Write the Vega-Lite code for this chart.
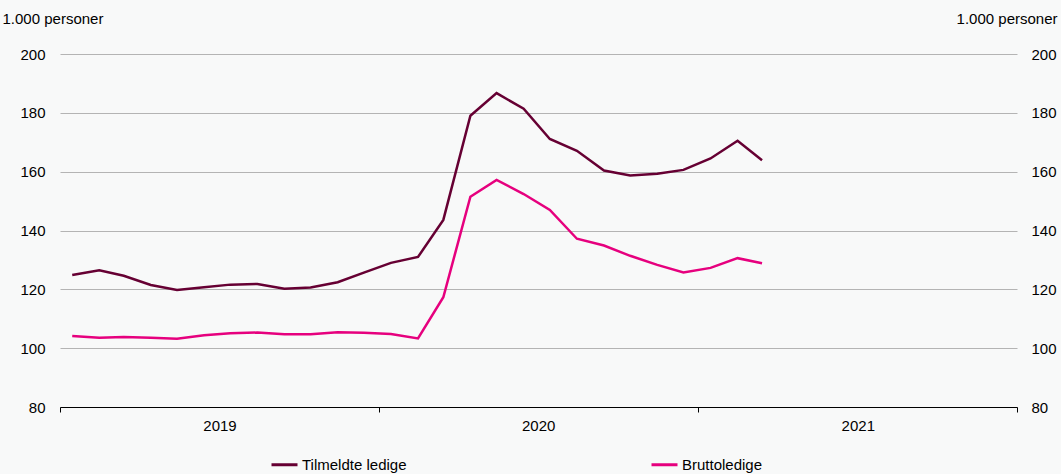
{
  "$schema": "https://vega.github.io/schema/vega-lite/v6.json",
  "width": 957,
  "height": 353,
  "autosize": {"type": "none"},
  "padding": {"left": 60, "top": 54, "right": 44, "bottom": 67},
  "background": "#f8f9f9",
  "config": {
    "view": {"stroke": null},
    "font": "Liberation Sans",
    "axis": {"labelFont": "Liberation Sans", "titleFont": "Liberation Sans", "labelFontSize": 15, "titleFontSize": 15, "labelColor": "#000000", "titleColor": "#000000", "titleFontWeight": "normal"},
    "legend": {"labelFont": "Liberation Sans", "labelFontSize": 15, "labelColor": "#000000"}
  },
  "data": {
    "values": [
      {"date": "2019-01-15", "serie": "Tilmeldte ledige", "value": 124.9},
      {"date": "2019-02-15", "serie": "Tilmeldte ledige", "value": 126.5},
      {"date": "2019-03-15", "serie": "Tilmeldte ledige", "value": 124.6},
      {"date": "2019-04-15", "serie": "Tilmeldte ledige", "value": 121.5},
      {"date": "2019-05-15", "serie": "Tilmeldte ledige", "value": 119.8},
      {"date": "2019-06-15", "serie": "Tilmeldte ledige", "value": 120.7},
      {"date": "2019-07-15", "serie": "Tilmeldte ledige", "value": 121.6},
      {"date": "2019-08-15", "serie": "Tilmeldte ledige", "value": 121.8},
      {"date": "2019-09-15", "serie": "Tilmeldte ledige", "value": 120.2},
      {"date": "2019-10-15", "serie": "Tilmeldte ledige", "value": 120.6},
      {"date": "2019-11-15", "serie": "Tilmeldte ledige", "value": 122.4},
      {"date": "2019-12-15", "serie": "Tilmeldte ledige", "value": 125.7},
      {"date": "2020-01-15", "serie": "Tilmeldte ledige", "value": 129.0},
      {"date": "2020-02-15", "serie": "Tilmeldte ledige", "value": 131.0},
      {"date": "2020-03-15", "serie": "Tilmeldte ledige", "value": 143.6},
      {"date": "2020-04-15", "serie": "Tilmeldte ledige", "value": 179.0},
      {"date": "2020-05-15", "serie": "Tilmeldte ledige", "value": 186.7},
      {"date": "2020-06-15", "serie": "Tilmeldte ledige", "value": 181.4},
      {"date": "2020-07-15", "serie": "Tilmeldte ledige", "value": 171.1},
      {"date": "2020-08-15", "serie": "Tilmeldte ledige", "value": 167.1},
      {"date": "2020-09-15", "serie": "Tilmeldte ledige", "value": 160.4},
      {"date": "2020-10-15", "serie": "Tilmeldte ledige", "value": 158.7},
      {"date": "2020-11-15", "serie": "Tilmeldte ledige", "value": 159.3},
      {"date": "2020-12-15", "serie": "Tilmeldte ledige", "value": 160.6},
      {"date": "2021-01-15", "serie": "Tilmeldte ledige", "value": 164.5},
      {"date": "2021-02-15", "serie": "Tilmeldte ledige", "value": 170.5},
      {"date": "2021-03-15", "serie": "Tilmeldte ledige", "value": 163.9},
      {"date": "2019-01-15", "serie": "Bruttoledige", "value": 104.1},
      {"date": "2019-02-15", "serie": "Bruttoledige", "value": 103.5},
      {"date": "2019-03-15", "serie": "Bruttoledige", "value": 103.8},
      {"date": "2019-04-15", "serie": "Bruttoledige", "value": 103.5},
      {"date": "2019-05-15", "serie": "Bruttoledige", "value": 103.2},
      {"date": "2019-06-15", "serie": "Bruttoledige", "value": 104.4},
      {"date": "2019-07-15", "serie": "Bruttoledige", "value": 105.1},
      {"date": "2019-08-15", "serie": "Bruttoledige", "value": 105.3},
      {"date": "2019-09-15", "serie": "Bruttoledige", "value": 104.7},
      {"date": "2019-10-15", "serie": "Bruttoledige", "value": 104.7},
      {"date": "2019-11-15", "serie": "Bruttoledige", "value": 105.4},
      {"date": "2019-12-15", "serie": "Bruttoledige", "value": 105.2},
      {"date": "2020-01-15", "serie": "Bruttoledige", "value": 104.8},
      {"date": "2020-02-15", "serie": "Bruttoledige", "value": 103.3},
      {"date": "2020-03-15", "serie": "Bruttoledige", "value": 117.3},
      {"date": "2020-04-15", "serie": "Bruttoledige", "value": 151.5},
      {"date": "2020-05-15", "serie": "Bruttoledige", "value": 157.2},
      {"date": "2020-06-15", "serie": "Bruttoledige", "value": 152.4},
      {"date": "2020-07-15", "serie": "Bruttoledige", "value": 147.0},
      {"date": "2020-08-15", "serie": "Bruttoledige", "value": 137.2},
      {"date": "2020-09-15", "serie": "Bruttoledige", "value": 134.9},
      {"date": "2020-10-15", "serie": "Bruttoledige", "value": 131.4},
      {"date": "2020-11-15", "serie": "Bruttoledige", "value": 128.3},
      {"date": "2020-12-15", "serie": "Bruttoledige", "value": 125.7},
      {"date": "2021-01-15", "serie": "Bruttoledige", "value": 127.3},
      {"date": "2021-02-15", "serie": "Bruttoledige", "value": 130.6},
      {"date": "2021-03-15", "serie": "Bruttoledige", "value": 128.9}
    ]
  },
  "encoding": {
    "x": {
      "field": "date",
      "type": "temporal",
      "scale": {"type": "utc", "domain": [{"year": 2019, "month": 1, "date": 1, "utc": true}, {"year": 2022, "month": 1, "date": 1, "utc": true}]},
      "axis": {
        "title": null,
        "values": [{"year": 2019, "month": 1, "date": 1, "utc": true}, {"year": 2020, "month": 1, "date": 1, "utc": true}, {"year": 2021, "month": 1, "date": 1, "utc": true}, {"year": 2022, "month": 1, "date": 1, "utc": true}],
        "labelExpr": "utcyear(datum.value) < 2022 ? '' + utcyear(datum.value) : ''",
        "labelOffset": 159.5,
        "labelFlush": false,
        "labelOverlap": false,
        "labelPadding": 6,
        "grid": false,
        "domainColor": "#000000",
        "domainWidth": 1,
        "tickColor": "#000000",
        "tickSize": 5,
        "tickWidth": 1
      }
    },
    "y": {
      "field": "value",
      "type": "quantitative",
      "scale": {"domain": [80, 200], "nice": false, "zero": false}
    },
    "color": {
      "field": "serie",
      "type": "nominal",
      "scale": {"domain": ["Tilmeldte ledige", "Bruttoledige"], "range": ["#660033", "#e6007e"]},
      "legend": {
        "title": null,
        "orient": "none",
        "legendX": 210,
        "legendY": 396,
        "direction": "horizontal",
        "columnPadding": 238,
        "symbolType": "stroke",
        "symbolSize": 676,
        "symbolStrokeWidth": 3,
        "labelOffset": 3,
        "labelFontSize": 15
      }
    }
  },
  "layer": [
    {
      "transform": [{"filter": "datum.serie == 'Tilmeldte ledige'"}],
      "mark": {"type": "line", "strokeWidth": 2.5},
      "encoding": {
        "y": {
          "field": "value",
          "type": "quantitative",
          "scale": {"domain": [80, 200], "nice": false, "zero": false},
          "axis": {
            "orient": "left",
            "title": "1.000 personer",
            "titleAngle": 0,
            "titleX": -58,
            "titleY": -36,
            "titleAlign": "left",
            "titleBaseline": "middle",
            "values": [80, 100, 120, 140, 160, 180, 200],
            "domain": false,
            "ticks": false,
            "labelPadding": 15,
            "grid": true,
            "gridColor": "#b4b4b4",
            "gridWidth": 1
          }
        }
      }
    },
    {
      "transform": [{"filter": "datum.serie == 'Bruttoledige'"}],
      "mark": {"type": "line", "strokeWidth": 2.5},
      "encoding": {
        "y": {
          "field": "value",
          "type": "quantitative",
          "scale": {"domain": [80, 200], "nice": false, "zero": false},
          "axis": {
            "orient": "right",
            "title": "1.000 personer",
            "titleAngle": 0,
            "titleX": 40,
            "titleY": -36,
            "titleAlign": "right",
            "titleBaseline": "middle",
            "values": [80, 100, 120, 140, 160, 180, 200],
            "domain": false,
            "ticks": false,
            "labelPadding": 14,
            "grid": false
          }
        }
      }
    }
  ],
  "resolve": {"scale": {"y": "shared"}, "axis": {"y": "independent"}}
}
